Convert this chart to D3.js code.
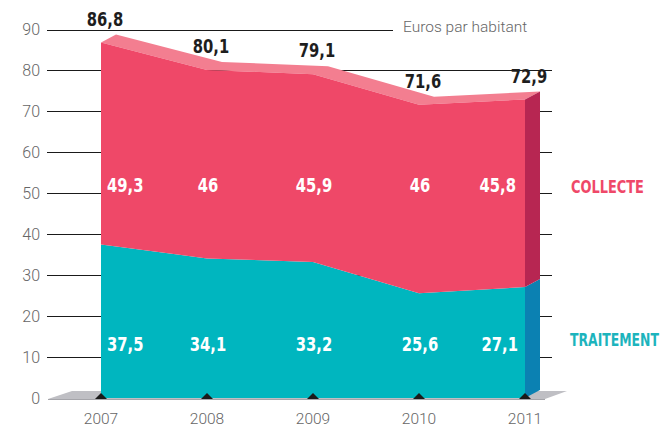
<!DOCTYPE html>
<html>
<head>
<meta charset="utf-8">
<script src="https://cdnjs.cloudflare.com/ajax/libs/d3/7.8.5/d3.min.js"></script>
<style>
  body { margin: 0; background: #fff; }
  .axis-lbl { font-family: Roboto, "DejaVu Sans", sans-serif; font-weight: 300; fill: #666; }
  .num { font-family: "DejaVu Sans", sans-serif; font-weight: bold; }
</style>
</head>
<body>
<svg id="chart" width="661" height="428"></svg>
<script>
// data
var years = [2007, 2008, 2009, 2010, 2011];
var traitement = [37.5, 34.1, 33.2, 25.6, 27.1];
var collecte = [49.3, 46, 45.9, 46, 45.8];
var totals = [86.8, 80.1, 79.1, 71.6, 72.9];
var yTicks = [0, 10, 20, 30, 40, 50, 60, 70, 80, 90];
var unitLabel = "Euros par habitant";
var seriesNames = ["COLLECTE", "TRAITEMENT"];

var svg = d3.select("#chart"),
    margin = {top: 29.5, right: 136, bottom: 30, left: 101};

var x = d3.scaleLinear().domain([2007, 2011]).range([margin.left, 525]);
var y = d3.scaleLinear().domain([0, 90]).range([398, margin.top]);

var depth = {dx: 15, dy: -8};   // 3d offset of the block
var squeeze = 0.74;             // condensed look for the bold numbers
var pink = "#ef4868", pinkTop = "#f37e90", pinkSide = "#b72652";
var teal = "#00b6bf", tealSide = "#0b81b2";

var rows = years.map(function(yr, i) {
  return {year: yr, t: traitement[i], c: collecte[i], total: traitement[i] + collecte[i], label: totals[i]};
});

function place(fx, fy) {
  return function(d, i) { return "translate(" + fx(d, i) + "," + fy(d, i) + ") scale(" + squeeze + ",1)"; };
}

// gridlines
svg.append("g").selectAll("line")
  .data(yTicks.filter(function(d) { return d > 0; }))
  .enter().append("line")
    .attr("x1", 47)
    .attr("x2", function(d) { return d === 90 ? 393 : 552; })
    .attr("y1", function(d) { return Math.round(y(d)) + 0.5; })
    .attr("y2", function(d) { return Math.round(y(d)) + 0.5; })
    .attr("stroke", "#1a1a1a")
    .attr("stroke-width", 1);

svg.append("g").selectAll("text")
  .data(yTicks)
  .enter().append("text")
    .attr("class", "axis-lbl")
    .attr("x", 40)
    .attr("y", function(d) { return y(d) + 5.5; })
    .attr("text-anchor", "end")
    .attr("font-size", 16)
    .text(function(d) { return d; });

svg.append("text")
  .attr("class", "axis-lbl")
  .attr("x", 403)
  .attr("y", 32)
  .attr("font-size", 15.5)
  .text(unitLabel);

// floor
var x0 = x(2007), x1 = x(2011), y0 = y(0) + 1;
svg.append("path")
  .attr("d", "M" + (x0 - 53) + "," + y0 + "L" + (x0 - 29) + "," + (y0 - 8) +
             "L" + (x1 + 42) + "," + (y0 - 8) + "L" + (x1 + 20) + "," + y0 + "Z")
  .attr("fill", "#bfbfc4");
svg.append("line")
  .attr("x1", x0 - 53).attr("x2", x1 + 20)
  .attr("y1", y0 + 0.5).attr("y2", y0 + 0.5)
  .attr("stroke", "#a5a5aa");

// top face
var topFront = rows.map(function(d) { return [x(d.year), y(d.total)]; });
var topBack = topFront.map(function(p) { return [p[0] + depth.dx, p[1] + depth.dy]; }).reverse();
svg.append("path")
  .attr("d", d3.line()(topFront.concat(topBack)) + "Z")
  .attr("fill", pinkTop);

// stacked areas
var areaT = d3.area()
  .x(function(d) { return x(d.year); })
  .y0(function(d) { return y(0); })
  .y1(function(d) { return y(d.t); });
var areaC = d3.area()
  .x(function(d) { return x(d.year); })
  .y0(function(d) { return y(d.t); })
  .y1(function(d) { return y(d.total); });

svg.append("path").datum(rows).attr("d", areaT).attr("fill", teal);
svg.append("path").datum(rows).attr("d", areaC).attr("fill", pink);

// right side faces
var last = rows[rows.length - 1];
function side(lo, hi) {
  var xs = x(last.year);
  return "M" + xs + "," + y(lo) + "L" + xs + "," + y(hi) +
         "L" + (xs + depth.dx) + "," + (y(hi) + depth.dy) +
         "L" + (xs + depth.dx) + "," + (y(lo) + depth.dy) + "Z";
}
svg.append("path").attr("d", side(0, last.t)).attr("fill", tealSide);
svg.append("path").attr("d", side(last.t, last.total)).attr("fill", pinkSide);

// year markers
svg.append("g").selectAll("path")
  .data(years)
  .enter().append("path")
    .attr("d", function(d) { var cx = x(d); return "M" + (cx - 6) + "," + y0 + "L" + cx + "," + (y0 - 6) + "L" + (cx + 6) + "," + y0 + "Z"; })
    .attr("fill", "#1a1a1a");

svg.append("g").selectAll("text")
  .data(years)
  .enter().append("text")
    .attr("class", "axis-lbl")
    .attr("x", function(d) { return x(d); })
    .attr("y", 424)
    .attr("text-anchor", "middle")
    .attr("font-size", 15.5)
    .text(function(d) { return d; });

function fmt(v) { return String(v).replace(".", ","); }
function anchor(d, i) { return i === 0 ? "start" : (i === rows.length - 1 ? "end" : "middle"); }
function ax(d, i) { return i === 0 ? x(d.year) + 6 : (i === rows.length - 1 ? x(d.year) - 9 : x(d.year) + 1); }

// totals
svg.append("g").selectAll("text")
  .data(rows)
  .enter().append("text")
    .attr("class", "num")
    .attr("transform", place(function(d) { return x(d.year) + 4; }, function(d) { return y(d.total) - 17; }))
    .attr("text-anchor", "middle")
    .attr("font-size", 20)
    .attr("fill", "#1e1e1e")
    .text(function(d) { return fmt(d.label); });

// values inside the bands
svg.append("g").selectAll("text")
  .data(rows)
  .enter().append("text")
    .attr("class", "num")
    .attr("transform", place(ax, function() { return y(50.4); }))
    .attr("text-anchor", anchor)
    .attr("font-size", 20)
    .attr("fill", "#fff")
    .text(function(d) { return fmt(d.c); });

svg.append("g").selectAll("text")
  .data(rows)
  .enter().append("text")
    .attr("class", "num")
    .attr("transform", place(function(d, i) { return i === rows.length - 1 ? x(d.year) - 7 : ax(d, i); },
                             function() { return y(11.6); }))
    .attr("text-anchor", anchor)
    .attr("font-size", 20)
    .attr("fill", "#fff")
    .text(function(d) { return fmt(d.t); });

// series labels
svg.append("text")
  .attr("class", "num")
  .attr("transform", "translate(571,193) scale(" + squeeze + ",1)")
  .attr("font-size", 17.5)
  .attr("fill", pink)
  .text(seriesNames[0]);
svg.append("text")
  .attr("class", "num")
  .attr("transform", "translate(570,346) scale(" + squeeze + ",1)")
  .attr("font-size", 16.8)
  .attr("fill", "#1cb4bd")
  .text(seriesNames[1]);
</script>
</body>
</html>
